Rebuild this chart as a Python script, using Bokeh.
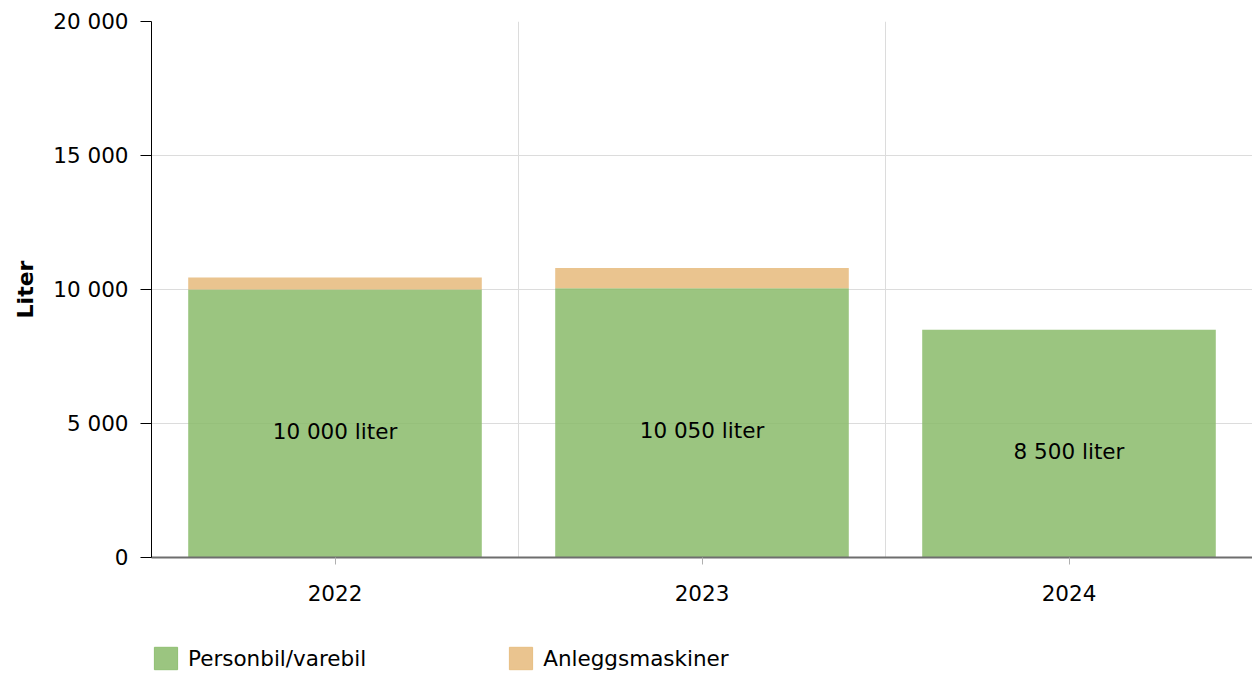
from bokeh.plotting import figure
from bokeh.layouts import column
from bokeh.models import FixedTicker, Legend, LegendItem, ColumnDataSource, Range1d
from bokeh.core.properties import value
from bokeh.embed import file_html
from bokeh.resources import INLINE

years = ["2022", "2023", "2024"]
personbil = [10000, 10050, 8500]
anlegg = [450, 750, 0]
series_names = ["Personbil/varebil", "Anleggsmaskiner"]
series_colors = ["#89bb6a", "#e6ba7b"]
y_ticks = [0, 5000, 10000, 15000, 20000]
y_tick_labels = ["0", "5 000", "10 000", "15 000", "20 000"]

FONT = "DejaVu Sans"
FS = "21.5px"

xs = [i + 0.5 for i in range(len(years))]
tops2 = [a + b for a, b in zip(personbil, anlegg)]
labels = [f"{v:,}".replace(",", " ") + " liter" for v in personbil]
mids = [v / 2 for v in personbil]

src = ColumnDataSource(dict(x=xs, p=personbil, t2=tops2, lab=labels, mid=mids))

p = figure(width=1252, height=637, output_backend="svg", toolbar_location=None,
           x_range=Range1d(0, len(years)), y_range=Range1d(0, 20000),
           min_border_left=151, min_border_top=21, min_border_right=0,
           min_border_bottom=80)
p.outline_line_color = None

p.vbar(x="x", top="p", bottom=0, width=0.8, source=src,
       fill_color=series_colors[0], fill_alpha=0.85, line_color=None)
p.vbar(x="x", top="t2", bottom="p", width=0.8, source=src,
       fill_color=series_colors[1], fill_alpha=0.85, line_color=None)

p.text(x="x", y="mid", text="lab", source=src, text_align="center",
       text_baseline="top", y_offset=-5, text_font=value(FONT), text_font_size=FS,
       text_color="#000000")

# axes
p.yaxis.ticker = FixedTicker(ticks=y_ticks)
p.yaxis.major_label_overrides = {t: l for t, l in zip(y_ticks, y_tick_labels)}
p.yaxis.axis_label = "Liter"
p.yaxis.axis_label_text_font = FONT
p.yaxis.axis_label_text_font_style = "bold"
p.yaxis.axis_label_text_font_size = "22px"
p.yaxis.axis_label_text_color = "#000000"
p.yaxis.axis_label_standoff = 12
p.yaxis.major_label_text_font = FONT
p.yaxis.major_label_text_font_size = FS
p.yaxis.major_label_text_color = "#000000"
p.yaxis.major_label_standoff = 12
p.yaxis.axis_line_color = "#000000"
p.yaxis.major_tick_line_color = "#000000"
p.yaxis.major_tick_out = 11
p.yaxis.major_tick_in = 0
p.yaxis.minor_tick_line_color = None

p.xaxis.ticker = FixedTicker(ticks=xs)
p.xaxis.major_label_overrides = {x: y for x, y in zip(xs, years)}
p.xaxis.major_label_text_font = FONT
p.xaxis.major_label_text_font_size = FS
p.xaxis.major_label_text_color = "#000000"
p.xaxis.major_label_standoff = 20
p.xaxis.axis_line_color = "#6e6e6e"
p.xaxis.axis_line_width = 2
p.xaxis.major_tick_line_color = "#b0b0b0"
p.xaxis.major_tick_out = 7
p.xaxis.major_tick_in = 0
p.xaxis.minor_tick_line_color = None

p.xgrid.ticker = FixedTicker(ticks=[1, 2, 3])
p.xgrid.grid_line_color = "#dcdcdc"
p.ygrid.ticker = FixedTicker(ticks=y_ticks)
p.ygrid.grid_line_color = "#dcdcdc"

# legend strip below the chart (its swatch renderers lie outside its view)
p2 = figure(width=1252, height=35, output_backend="svg", toolbar_location=None,
            x_axis_location=None, y_axis_location=None,
            x_range=Range1d(0, 1), y_range=Range1d(0, 1),
            min_border_left=151, min_border_top=7, min_border_right=0,
            min_border_bottom=0)
p2.outline_line_color = None
p2.xgrid.visible = False
p2.ygrid.visible = False
items = []
for name, col in zip(series_names, series_colors):
    r = p2.vbar(x=[100], top=[1], bottom=[0], width=0.8, fill_color=col,
                fill_alpha=0.85, line_color=col, line_alpha=0.9)
    items.append(LegendItem(label=name, renderers=[r]))

legend = Legend(items=items, orientation="horizontal", location="top_left",
                glyph_width=29, glyph_height=28, label_standoff=8, spacing=140,
                padding=0, margin=0, border_line_alpha=0, background_fill_alpha=0,
                label_text_font=FONT, label_text_font_size=FS,
                label_text_color="#000000")
p2.add_layout(legend)

layout = column(p, p2, spacing=0)
open("out.html", "w").write(file_html(layout, INLINE))
